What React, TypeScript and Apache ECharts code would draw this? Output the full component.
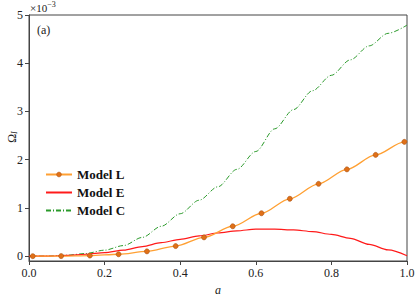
import React, { useEffect, useRef } from "react";
import * as echarts from "echarts";

// values in units of 1e-3
const lX = [0.01, 0.085, 0.161, 0.237, 0.312, 0.388, 0.463, 0.539, 0.615, 0.69, 0.766, 0.841, 0.917, 0.993, 1.0];
const lY = [0.0, 0.002, 0.012, 0.04, 0.1, 0.21, 0.39, 0.62, 0.89, 1.19, 1.5, 1.8, 2.1, 2.37, 2.39];

const gridX = [0, 0.05, 0.1, 0.15, 0.2, 0.25, 0.3, 0.35, 0.4, 0.45, 0.5, 0.55, 0.6, 0.65, 0.7, 0.75, 0.8, 0.85, 0.9, 0.95, 1.0];
const eY = [0, 0.003, 0.015, 0.04, 0.075, 0.125, 0.2, 0.28, 0.35, 0.42, 0.48, 0.525, 0.56, 0.56, 0.545, 0.51, 0.45, 0.37, 0.245, 0.13, 0.01];
const cY = [0, 0.003, 0.02, 0.055, 0.125, 0.22, 0.39, 0.62, 0.88, 1.16, 1.44, 1.8, 2.17, 2.64, 3.04, 3.43, 3.75, 4.07, 4.36, 4.62, 4.79];

const xTicks = [0, 0.2, 0.4, 0.6, 0.8, 1.0];
const yTicks = [0, 1, 2, 3, 4, 5];

const FONT = "'Liberation Serif', 'DejaVu Serif', serif";
const hidden = { color: "rgba(0,0,0,0)", borderWidth: 0, opacity: 0 };

export default function App() {
  const ref = useRef<HTMLDivElement>(null);
  useEffect(() => {
    if (!ref.current) return;
    const chart = echarts.init(ref.current, null, { renderer: "svg" });
    const lData = lX.map((x, i) => {
      if (i === lX.length - 1) return { value: [x, lY[i]], symbol: "none" };
      return { value: [x, lY[i]] };
    });
    chart.setOption({
      animation: false,
      textStyle: { fontFamily: FONT },
      grid: {
        left: 29,
        right: 8,
        top: 15,
        bottom: 36,
        containLabel: false,
        outerBoundsMode: "none",
        show: true,
        borderColor: "#444",
        borderWidth: 1,
      },
      legend: {
        left: 40,
        top: 163,
        orient: "vertical",
        itemWidth: 26,
        itemHeight: 6,
        itemGap: 5,
        textStyle: { fontFamily: FONT, fontSize: 13, fontWeight: "bold", color: "#111" },
        data: [
          { name: "Model L", itemStyle: { borderWidth: 0.5 } },
          { name: "Model E", itemStyle: hidden },
          { name: "Model C", itemStyle: hidden },
        ],
      },
      xAxis: {
        type: "value",
        min: 0,
        max: 1,
        interval: 0.2,
        splitLine: { show: false },
        axisLine: { onZero: false, lineStyle: { color: "#444" } },
        axisTick: { show: true, length: 4, lineStyle: { color: "#444" }, customValues: xTicks },
        axisLabel: {
          color: "#222",
          fontSize: 12,
          fontFamily: FONT,
          margin: 6,
          customValues: xTicks,
          formatter: (v: number) => v.toFixed(1),
        },
        name: "a",
        nameLocation: "middle",
        nameGap: 17,
        nameTextStyle: { fontFamily: FONT, fontStyle: "italic", fontSize: 12, color: "#222" },
      },
      yAxis: {
        type: "value",
        min: -0.1,
        max: 5,
        splitLine: { show: false },
        axisLine: { onZero: false, lineStyle: { color: "#444" } },
        axisTick: { show: true, length: 4, lineStyle: { color: "#444" }, customValues: yTicks },
        axisLabel: {
          color: "#222",
          fontSize: 12,
          fontFamily: FONT,
          margin: 6,
          customValues: yTicks,
          formatter: (v: number) => String(Math.round(v)),
        },
      },
      graphic: [
        {
          type: "text",
          left: 30,
          top: 0,
          style: {
            text: "{a|×10}{b|−3}",
            rich: {
              a: { fontFamily: FONT, fontSize: 11, fill: "#222", padding: [3, 0, 0, 0] },
              b: { fontFamily: FONT, fontSize: 8, fill: "#222", padding: [0, 0, 4, 0] },
            },
          },
        },
        {
          type: "text",
          left: 37,
          top: 24,
          style: { text: "(a)", fontFamily: FONT, fontSize: 12, fill: "#222" },
        },
        {
          type: "text",
          x: 12,
          y: 137,
          rotation: Math.PI / 2,
          style: {
            text: "{a|Ω}{b|I}",
            align: "center",
            verticalAlign: "middle",
            rich: {
              a: { fontFamily: FONT, fontSize: 12, fill: "#222" },
              b: { fontFamily: FONT, fontSize: 8, fontStyle: "italic", fill: "#222", padding: [5, 0, 0, 0] },
            },
          },
        },
      ],
      series: [
        {
          name: "Model L",
          type: "line",
          data: lData,
          smooth: 0.3,
          smoothMonotone: "x",
          symbol: "circle",
          symbolSize: 5,
          showAllSymbol: true,
          lineStyle: { color: "#ffa033", width: 1.3 },
          itemStyle: { color: "#e07018", borderColor: "#a85010", borderWidth: 0.6 },
          z: 3,
        },
        {
          name: "Model E",
          type: "line",
          data: gridX.map((x, i) => [x, eY[i]]),
          smooth: 0.3,
          smoothMonotone: "x",
          symbol: "none",
          lineStyle: { color: "#ff1a1a", width: 1.2 },
          itemStyle: { color: "#ff1a1a" },
          z: 2,
        },
        {
          name: "Model C",
          type: "line",
          data: gridX.map((x, i) => [x, cY[i]]),
          smooth: 0.3,
          smoothMonotone: "x",
          symbol: "none",
          lineStyle: { color: "#2a9a2a", width: 1.0, type: [5, 2, 1, 2] },
          itemStyle: { color: "#2a9a2a" },
          z: 1,
        },
      ],
    });
    return () => chart.dispose();
  }, []);
  return <div ref={ref} style={{ width: 415, height: 297, position: "absolute", left: 0, top: 0 }} />;
}
